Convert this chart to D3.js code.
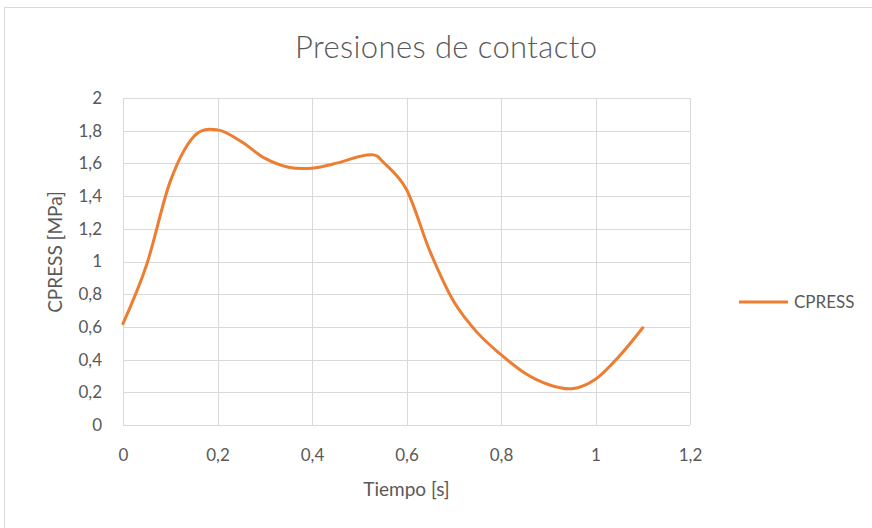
<!DOCTYPE html>
<html>
<head>
<meta charset="utf-8">
<script src="https://cdn.jsdelivr.net/npm/d3@7/dist/d3.min.js"></script>
<style>
  html, body { margin: 0; padding: 0; background: #ffffff; }
  svg { display: block; }
  text { font-family: Lato, "Open Sans", sans-serif; fill: #595959; }
</style>
</head>
<body>
<svg id="chart" width="872" height="528"></svg>
<script>
// Contact pressure history (time in s, CPRESS in MPa)
const tiempo = [0, 0.05, 0.1, 0.15, 0.2, 0.25, 0.3, 0.35, 0.4, 0.45, 0.5, 0.53, 0.55, 0.6, 0.65, 0.7, 0.75, 0.8, 0.85, 0.9, 0.95, 1.0, 1.05, 1.1];
const cpress = [0.62, 0.98, 1.49, 1.765, 1.805, 1.734, 1.632, 1.577, 1.571, 1.60, 1.642, 1.652, 1.61, 1.44, 1.06, 0.755, 0.565, 0.43, 0.318, 0.248, 0.222, 0.28, 0.42, 0.595];
const xTicks = [0, 0.2, 0.4, 0.6, 0.8, 1, 1.2];
const yTicks = [0, 0.2, 0.4, 0.6, 0.8, 1, 1.2, 1.4, 1.6, 1.8, 2];
const seriesName = "CPRESS";
const chartTitle = "Presiones de contacto";
const xTitle = "Tiempo [s]";
const yTitle = "CPRESS [MPa]";

const svg = d3.select("#chart");
const plot = { left: 123, right: 690, top: 98, bottom: 425 };
const fmt = v => String(v).replace(".", ",");

// chart area frame
svg.append("rect")
  .attr("x", 4.5).attr("y", 7.5)
  .attr("width", 900).attr("height", 600)
  .attr("fill", "#ffffff")
  .attr("stroke", "#d9d9d9").attr("stroke-width", 1);

const x = d3.scaleLinear().domain([0, 1.2]).range([plot.left, plot.right]);
const y = d3.scaleLinear().domain([0, 2]).range([plot.bottom, plot.top]);

// gridlines
const grid = svg.append("g").attr("stroke", "#d9d9d9").attr("stroke-width", 1);
grid.selectAll("line.h").data(yTicks).join("line")
  .attr("x1", plot.left).attr("x2", plot.right)
  .attr("y1", d => Math.round(y(d)) + 0.5).attr("y2", d => Math.round(y(d)) + 0.5);
grid.selectAll("line.v").data(xTicks).join("line")
  .attr("y1", plot.top).attr("y2", plot.bottom)
  .attr("x1", d => Math.round(x(d)) + 0.5).attr("x2", d => Math.round(x(d)) + 0.5);

// axes (labels only; gridlines provide the rules)
const xAxis = svg.append("g")
  .attr("transform", `translate(0,${plot.bottom})`)
  .call(d3.axisBottom(x).tickValues(xTicks).tickFormat(fmt).tickSize(0).tickPadding(24));
const yAxis = svg.append("g")
  .attr("transform", `translate(${plot.left},0)`)
  .call(d3.axisLeft(y).tickValues(yTicks).tickFormat(fmt).tickSize(0).tickPadding(21));
[xAxis, yAxis].forEach(a => {
  a.select(".domain").remove();
  a.selectAll("text").attr("font-size", 17).attr("fill", "#595959")
    .style("font-family", "Lato, 'Open Sans', sans-serif");
});

// series line
const line = d3.line()
  .x((d, i) => x(tiempo[i]))
  .y(d => y(d))
  .curve(d3.curveCardinal.tension(0));
svg.append("path")
  .datum(cpress)
  .attr("d", line)
  .attr("fill", "none")
  .attr("stroke", "#ED7D31")
  .attr("stroke-width", 3)
  .attr("stroke-linecap", "round")
  .attr("stroke-linejoin", "round");

// titles
svg.append("text")
  .attr("x", 446).attr("y", 58)
  .attr("text-anchor", "middle")
  .attr("font-size", 31)
  .attr("font-weight", 300)
  .attr("textLength", 302)
  .attr("lengthAdjust", "spacing")
  .text(chartTitle);
svg.append("text")
  .attr("x", (plot.left + plot.right) / 2).attr("y", 496)
  .attr("text-anchor", "middle")
  .attr("font-size", 19)
  .text(xTitle);
svg.append("text")
  .attr("transform", "translate(62,252) rotate(-90)")
  .attr("text-anchor", "middle")
  .attr("font-size", 19)
  .text(yTitle);

// legend
const legend = svg.append("g").attr("transform", "translate(739,302)");
legend.append("line")
  .attr("x1", 0).attr("x2", 49).attr("y1", 0).attr("y2", 0)
  .attr("stroke", "#ED7D31").attr("stroke-width", 3);
legend.append("text")
  .attr("x", 55).attr("y", 6)
  .attr("font-size", 17)
  .text(seriesName);
</script>
</body>
</html>
